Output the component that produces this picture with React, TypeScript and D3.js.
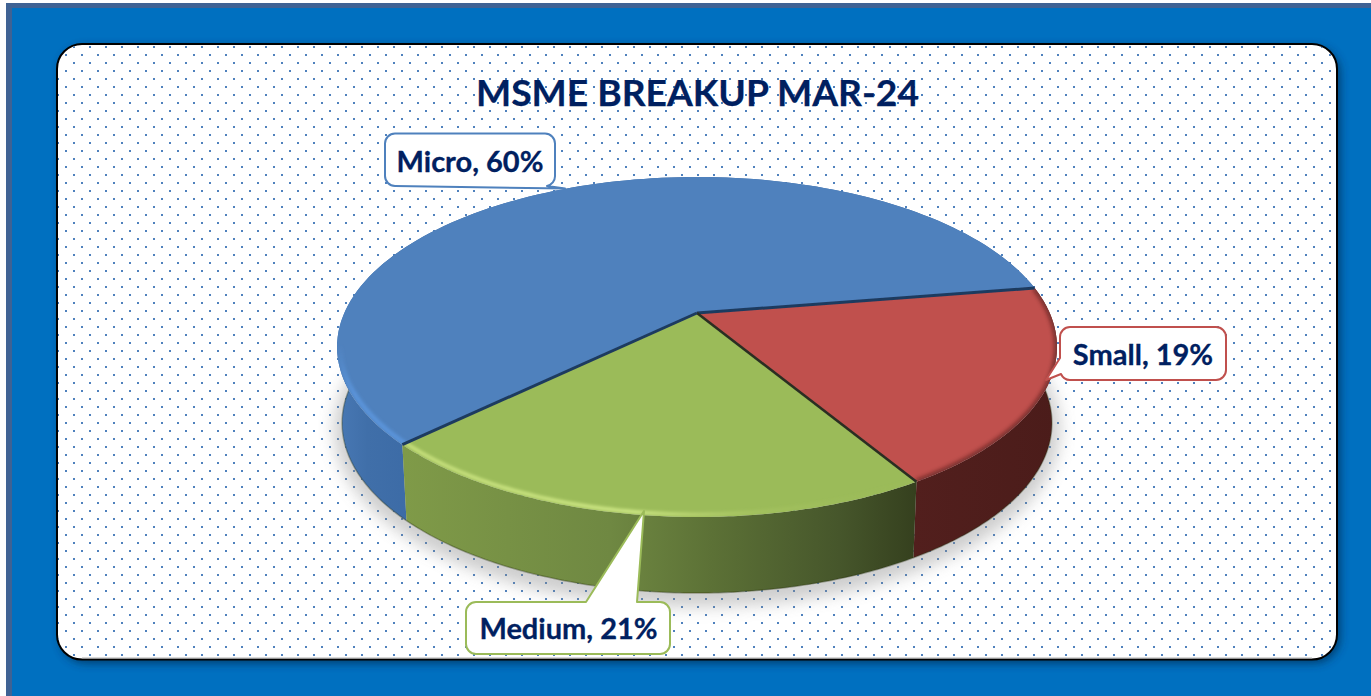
import React from "react";
import * as d3 from "d3";

const categories = ["Micro", "Small", "Medium"];
const shares = [59.7, 18.9, 21.4];
const topColors = ["#4f81bd", "#c0504d", "#9bbb59"];
const borderColors = ["#4f81bd", "#c0504d", "#9bbb59"];
const titleText = "MSME BREAKUP MAR-24";

const W = 1371, H = 696;
const cx = 697, apexY = 313, R = 352.7, S = 163.2, K = 0.2, DEPTH = 76, BOTTOM_SCALE = 0.986;
const START = (226 * Math.PI) / 180;
const FONT = "Lato, 'Open Sans', sans-serif";

type P = [number, number];
const top = (a: number, r = 1): P => {
  const c = Math.sin(a) * r, s = -Math.cos(a) * r, w = 1 - K * s;
  return [cx + (R * c) / w, apexY + (S * s) / w];
};
const bottom = (a: number): P => {
  const c = Math.sin(a), s = -Math.cos(a), w = 1 - K * s;
  return [cx + (BOTTOM_SCALE * R * c) / w, apexY + DEPTH + (S * s) / w];
};
const line = d3.line<P>();
const sample = (a0: number, a1: number, f: (a: number) => P, n = 120): P[] =>
  d3.range(n + 1).map((i) => f(a0 + ((a1 - a0) * i) / n));

const arcs = d3.pie<number>().sort(null).startAngle(START).endAngle(START + 2 * Math.PI)(shares);
const deg = (d: number) => (d * Math.PI) / 180;

const topPath = (a0: number, a1: number) => line([[cx, apexY], ...sample(a0, a1, (a) => top(a))])! + "Z";
const wallPath = (a0: number, a1: number) =>
  line([...sample(a0, a1, (a) => top(a)), ...sample(a1, a0, bottom)])! + "Z";
const wallFills = ["url(#wallBlue)", "url(#wallRed)", "url(#wallGreen)"];

function Callout({ d, color, text, tx, ty, fs }: { d: string; color: string; text: string; tx: number; ty: number; fs: number }) {
  return (
    <g>
      <path d={d} fill="#fff" stroke={color} strokeWidth={2} strokeLinejoin="round" />
      <text x={tx} y={ty} textAnchor="middle" fontFamily={FONT} fontWeight={700} fontSize={fs} fill="#002060" stroke="#002060" strokeWidth={0.3}>
        {text}
      </text>
    </g>
  );
}

export default function App() {
  const label = (i: number) => `${categories[i]}, ${Math.round(shares[i])}%`;
  const [micro, small, medium] = arcs;
  const shadow = line(sample(0, 2 * Math.PI, bottom))! + "Z";
  return (
    <svg width={W} height={H} viewBox={`0 0 ${W} ${H}`} style={{ position: "absolute", left: 0, top: 0, display: "block" }}>
      <defs>
        <pattern id="dots" x={65} y={38} width={16} height={16} patternUnits="userSpaceOnUse">
          <rect x={0} y={0} width={2} height={2} fill="#4f81bd" />
          <rect x={8} y={8} width={2} height={2} fill="#4f81bd" />
        </pattern>
        <filter id="cardShadow" x="-5%" y="-5%" width="110%" height="110%">
          <feGaussianBlur stdDeviation={5} />
        </filter>
        <filter id="blur8" x="-10%" y="-10%" width="120%" height="120%">
          <feGaussianBlur stdDeviation={8} />
        </filter>
        <filter id="blur2" x="-10%" y="-10%" width="120%" height="120%">
          <feGaussianBlur stdDeviation={2} />
        </filter>
        <filter id="blur15" x="-10%" y="-10%" width="120%" height="120%">
          <feGaussianBlur stdDeviation={1.5} />
        </filter>
        <filter id="blur1" x="-10%" y="-10%" width="120%" height="120%">
          <feGaussianBlur stdDeviation={0.7} />
        </filter>
        <linearGradient id="wallGreen" gradientUnits="userSpaceOnUse" x1={406} y1={0} x2={916} y2={0}>
          <stop offset="0" stopColor="#7f9a48" />
          <stop offset="0.4" stopColor="#6f8842" />
          <stop offset="0.6" stopColor="#5c7136" />
          <stop offset="0.85" stopColor="#46562b" />
          <stop offset="1" stopColor="#35401e" />
        </linearGradient>
        <linearGradient id="wallBlue" gradientUnits="userSpaceOnUse" x1={338} y1={0} x2={412} y2={0}>
          <stop offset="0" stopColor="#4878b4" />
          <stop offset="0.4" stopColor="#406fa9" />
          <stop offset="1" stopColor="#3c6ba6" />
        </linearGradient>
        <linearGradient id="wallRed" gradientUnits="userSpaceOnUse" x1={912} y1={0} x2={1057} y2={0}>
          <stop offset="0" stopColor="#521f1d" />
          <stop offset="1" stopColor="#4b1c1a" />
        </linearGradient>
        <linearGradient id="greenGlow" gradientUnits="userSpaceOnUse" x1={406} y1={0} x2={916} y2={0}>
          <stop offset="0" stopColor="#c9e27e" stopOpacity={0.9} />
          <stop offset="0.45" stopColor="#cde784" stopOpacity={0.95} />
          <stop offset="0.7" stopColor="#b6d06c" stopOpacity={0.3} />
          <stop offset="1" stopColor="#9bbb59" stopOpacity={0} />
        </linearGradient>
        <linearGradient id="blueGlow" gradientUnits="userSpaceOnUse" x1={0} y1={345} x2={0} y2={395}>
          <stop offset="0" stopColor="#5b95dc" stopOpacity={0} />
          <stop offset="1" stopColor="#5b95dc" stopOpacity={0.9} />
        </linearGradient>
        {arcs.map((a, i) => (
          <clipPath key={i} id={`clip${i}`}>
            <path d={topPath(a.startAngle, a.endAngle)} />
          </clipPath>
        ))}
      </defs>

      <rect width={W} height={H} fill="#fff" />
      <rect x={6} y={3} width={W - 6} height={H - 3} fill="#3f6294" />
      <rect x={12} y={8} width={W - 12} height={H - 8} fill="#0070c0" />

      <rect x={60} y={47} width={1280} height={616} rx={26} fill="#002a50" opacity={0.75} filter="url(#cardShadow)" />
      <rect x={57} y={44} width={1280} height={615.5} rx={25} fill="#fff" stroke="#000" strokeWidth={2} />
      <rect x={58} y={45} width={1278} height={613.5} rx={24} fill="url(#dots)" />
      <line x1={82} x2={1312} y1={657.8} y2={657.8} stroke="#c8c8c8" strokeWidth={1} />

      <text x={697.5} y={105.5} textAnchor="middle" fontFamily={FONT} fontWeight={700} fontSize={37} fill="#002060" stroke="#002060" strokeWidth={0.25} textLength={443} lengthAdjust="spacingAndGlyphs">
        {titleText}
      </text>

      <path d={shadow} transform="translate(0,6)" fill="#8a8a8a" stroke="#8a8a8a" strokeWidth={16} opacity={0.42} filter="url(#blur8)" />

      {arcs.map((a, i) => (
        <path key={i} d={wallPath(a.startAngle, a.endAngle)} fill={wallFills[i]} />
      ))}
      <path d={line(sample(deg(90), deg(270), bottom))!} fill="none" stroke="#2a3315" strokeOpacity={0.35} strokeWidth={1.5} filter="url(#blur1)" />

      {arcs.map((a, i) => (
        <path key={i} d={topPath(a.startAngle, a.endAngle)} fill={topColors[i]} />
      ))}

      <g clipPath="url(#clip0)">
        <path d={line(sample(micro.startAngle, deg(280), (a) => top(a, 0.992)))!} fill="none" stroke="url(#blueGlow)" strokeWidth={5} filter="url(#blur15)" />
      </g>
      <g clipPath="url(#clip1)">
        <path d={line(sample(small.startAngle, small.endAngle, (a) => top(a, 1)))!} fill="none" stroke="#2c0e0d" strokeWidth={5} opacity={0.55} filter="url(#blur2)" />
      </g>
      <g clipPath="url(#clip2)">
        <path d={line(sample(medium.startAngle, medium.endAngle, (a) => top(a, 0.99)))!} fill="none" stroke="url(#greenGlow)" strokeWidth={4} filter="url(#blur15)" />
      </g>

      <line x1={cx} y1={apexY} x2={top(micro.endAngle)[0]} y2={top(micro.endAngle)[1]} stroke="#1f3a5f" strokeWidth={3} filter="url(#blur1)" />
      <line x1={cx} y1={apexY} x2={top(small.endAngle)[0]} y2={top(small.endAngle)[1]} stroke="#2b2f22" strokeWidth={2.6} filter="url(#blur1)" />
      <line x1={cx} y1={apexY} x2={top(medium.endAngle)[0]} y2={top(medium.endAngle)[1]} stroke="#1f3a5f" strokeWidth={3} filter="url(#blur1)" />

      <Callout
        d="M395 133.5H545a10 10 0 0 1 10 10V176a10 10 0 0 1 -8 10L565 188.5L395 186a10 10 0 0 1 -10 -10V143.5a10 10 0 0 1 10 -10Z"
        color={borderColors[0]}
        text={label(0)}
        tx={470}
        ty={171.5}
        fs={29}
      />
      <Callout
        d="M1070 327H1216a10 10 0 0 1 10 10V370a10 10 0 0 1 -10 10H1070a10 10 0 0 1 -9 -6L1046 380L1060 358V337a10 10 0 0 1 10 -10Z"
        color={borderColors[1]}
        text={label(1)}
        tx={1143}
        ty={365}
        fs={29}
      />
      <Callout
        d="M476 602H586L644 511L637 602H660a10 10 0 0 1 10 10V644a10 10 0 0 1 -10 10H476a10 10 0 0 1 -10 -10V612a10 10 0 0 1 10 -10Z"
        color={borderColors[2]}
        text={label(2)}
        tx={568.5}
        ty={638.5}
        fs={29}
      />
    </svg>
  );
}
